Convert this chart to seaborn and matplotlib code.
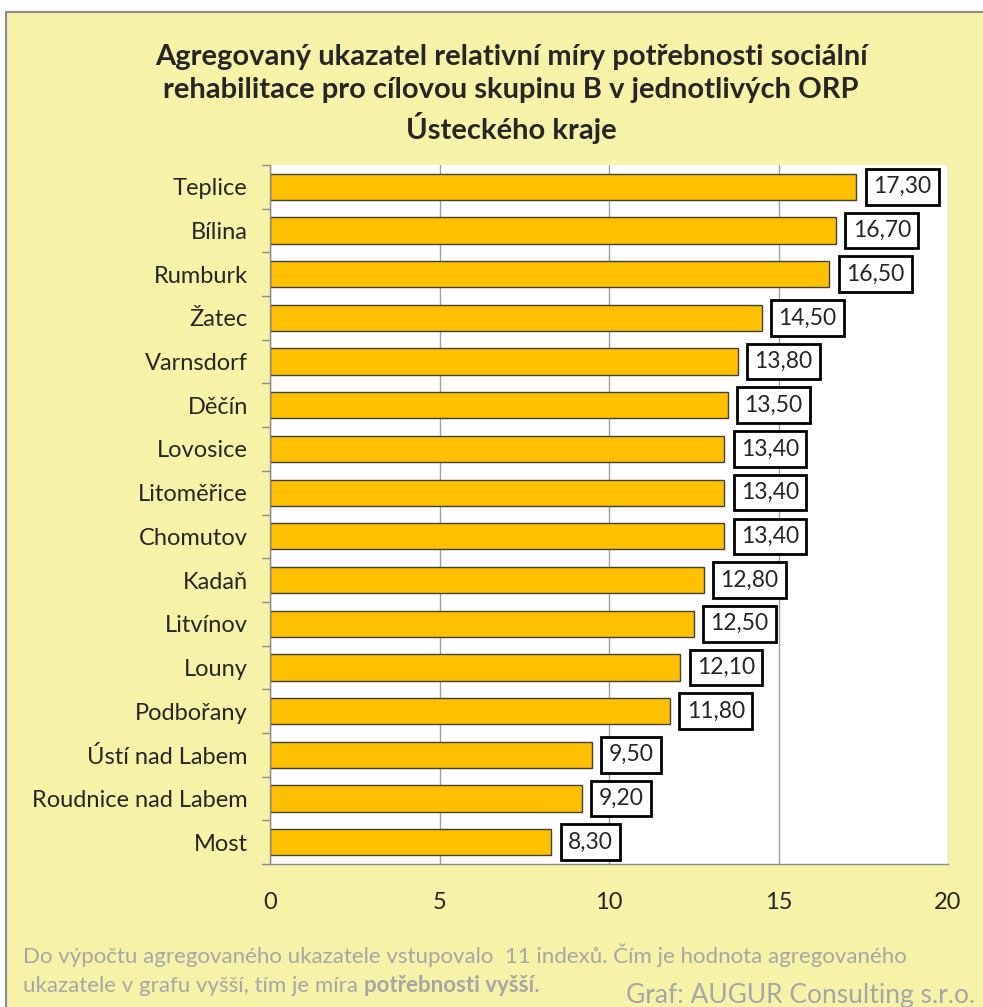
import seaborn as sns
import matplotlib.pyplot as plt
import pandas as pd
from matplotlib.patches import Rectangle

# data
orp = ['Teplice', 'Bílina', 'Rumburk', 'Žatec', 'Varnsdorf', 'Děčín', 'Lovosice',
       'Litoměřice', 'Chomutov', 'Kadaň', 'Litvínov', 'Louny', 'Podbořany',
       'Ústí nad Labem', 'Roudnice nad Labem', 'Most']
hodnoty = [17.3, 16.7, 16.5, 14.5, 13.8, 13.5, 13.4, 13.4, 13.4, 12.8, 12.5,
           12.1, 11.8, 9.5, 9.2, 8.3]
x_ticks = [0, 5, 10, 15, 20]

df = pd.DataFrame({'orp': orp, 'hodnota': hodnoty})

sns.set_style('white')
plt.rcParams['font.family'] = ['Lato', 'DejaVu Sans']

fig = plt.figure(figsize=(9.83, 10.07), dpi=100)
fig.patch.set_facecolor('white')
# pozadi grafu (zluty ramecek)
fig.patches.append(Rectangle((6 / 983, -0.05), 1.1, 1 - 12 / 1007 + 0.05,
                             transform=fig.transFigure, facecolor='#F6F3A9',
                             edgecolor='#8C8C8C', linewidth=1.5, zorder=-5))

ax = fig.add_axes([270 / 983, 1 - 864 / 1007, 678 / 983, 699 / 1007])
ax.set_facecolor('white')

sns.barplot(data=df, x='hodnota', y='orp', orient='h', color='#FFC000',
            edgecolor='#404040', linewidth=1, width=0.6, saturation=1, ax=ax)

for i, v in enumerate(hodnoty):
    ax.annotate(f'{v:.2f}'.replace('.', ','), (v, i), xytext=(12, 0),
                textcoords='offset points', ha='left', va='center', fontsize=16.5,
                bbox=dict(boxstyle='square,pad=0.32', facecolor='white',
                          edgecolor='black', linewidth=2))

ax.set_xlim(0, 20)
ax.set_ylim(len(orp) - 0.5, -0.5)
ax.set_xticks(x_ticks)
ax.set_xticklabels([str(t) for t in x_ticks], fontsize=17)
ax.tick_params(axis='y', labelsize=17, length=0, pad=16)
ax.tick_params(axis='x', length=6, width=1, color='#8C8C8C', direction='out', pad=14)
ax.xaxis.grid(True, color='#A0A0A0', linewidth=1)
ax.set_axisbelow(True)
ax.set_xlabel('')
ax.set_ylabel('')
for s in ['top', 'right']:
    ax.spines[s].set_visible(False)
for s in ['left', 'bottom']:
    ax.spines[s].set_color('#8C8C8C')
    ax.spines[s].set_linewidth(1)
# tick carky na ose y mezi kategoriemi
for k in range(len(orp) + 1):
    ax.plot([-0.012, 0], [k - 0.5, k - 0.5], transform=ax.get_yaxis_transform(),
            color='#8C8C8C', lw=1, clip_on=False)

fig.text(0.52, 1 - 94 / 1007,
         'Agregovaný ukazatel relativní míry potřebnosti sociální\n'
         'rehabilitace pro cílovou skupinu B v jednotlivých ORP\n'
         'Ústeckého kraje',
         ha='center', va='center', fontsize=21, fontweight='bold', linespacing=1.35)

fig.text(23 / 983, 1 - 955 / 1007,
         'Do výpočtu agregovaného ukazatele vstupovalo  11 indexů. Čím je hodnota agregovaného',
         ha='left', va='center', fontsize=16, color='#A6A6A6')
t = fig.text(23 / 983, 1 - 986 / 1007, 'ukazatele v grafu vyšší, tím je míra ',
             ha='left', va='center', fontsize=16, color='#A6A6A6')
fig.draw_without_rendering()
fig.text(t.get_window_extent().x1 / fig.bbox.width, 1 - 986 / 1007, 'potřebnosti vyšší.',
         ha='left', va='center', fontsize=16, color='#A6A6A6', fontweight='bold')
fig.text(975 / 983, 1 - 995 / 1007, 'Graf: AUGUR Consulting s.r.o.',
         ha='right', va='center', fontsize=19, color='#A6A6A6')

fig.savefig('out.png', dpi=100)
